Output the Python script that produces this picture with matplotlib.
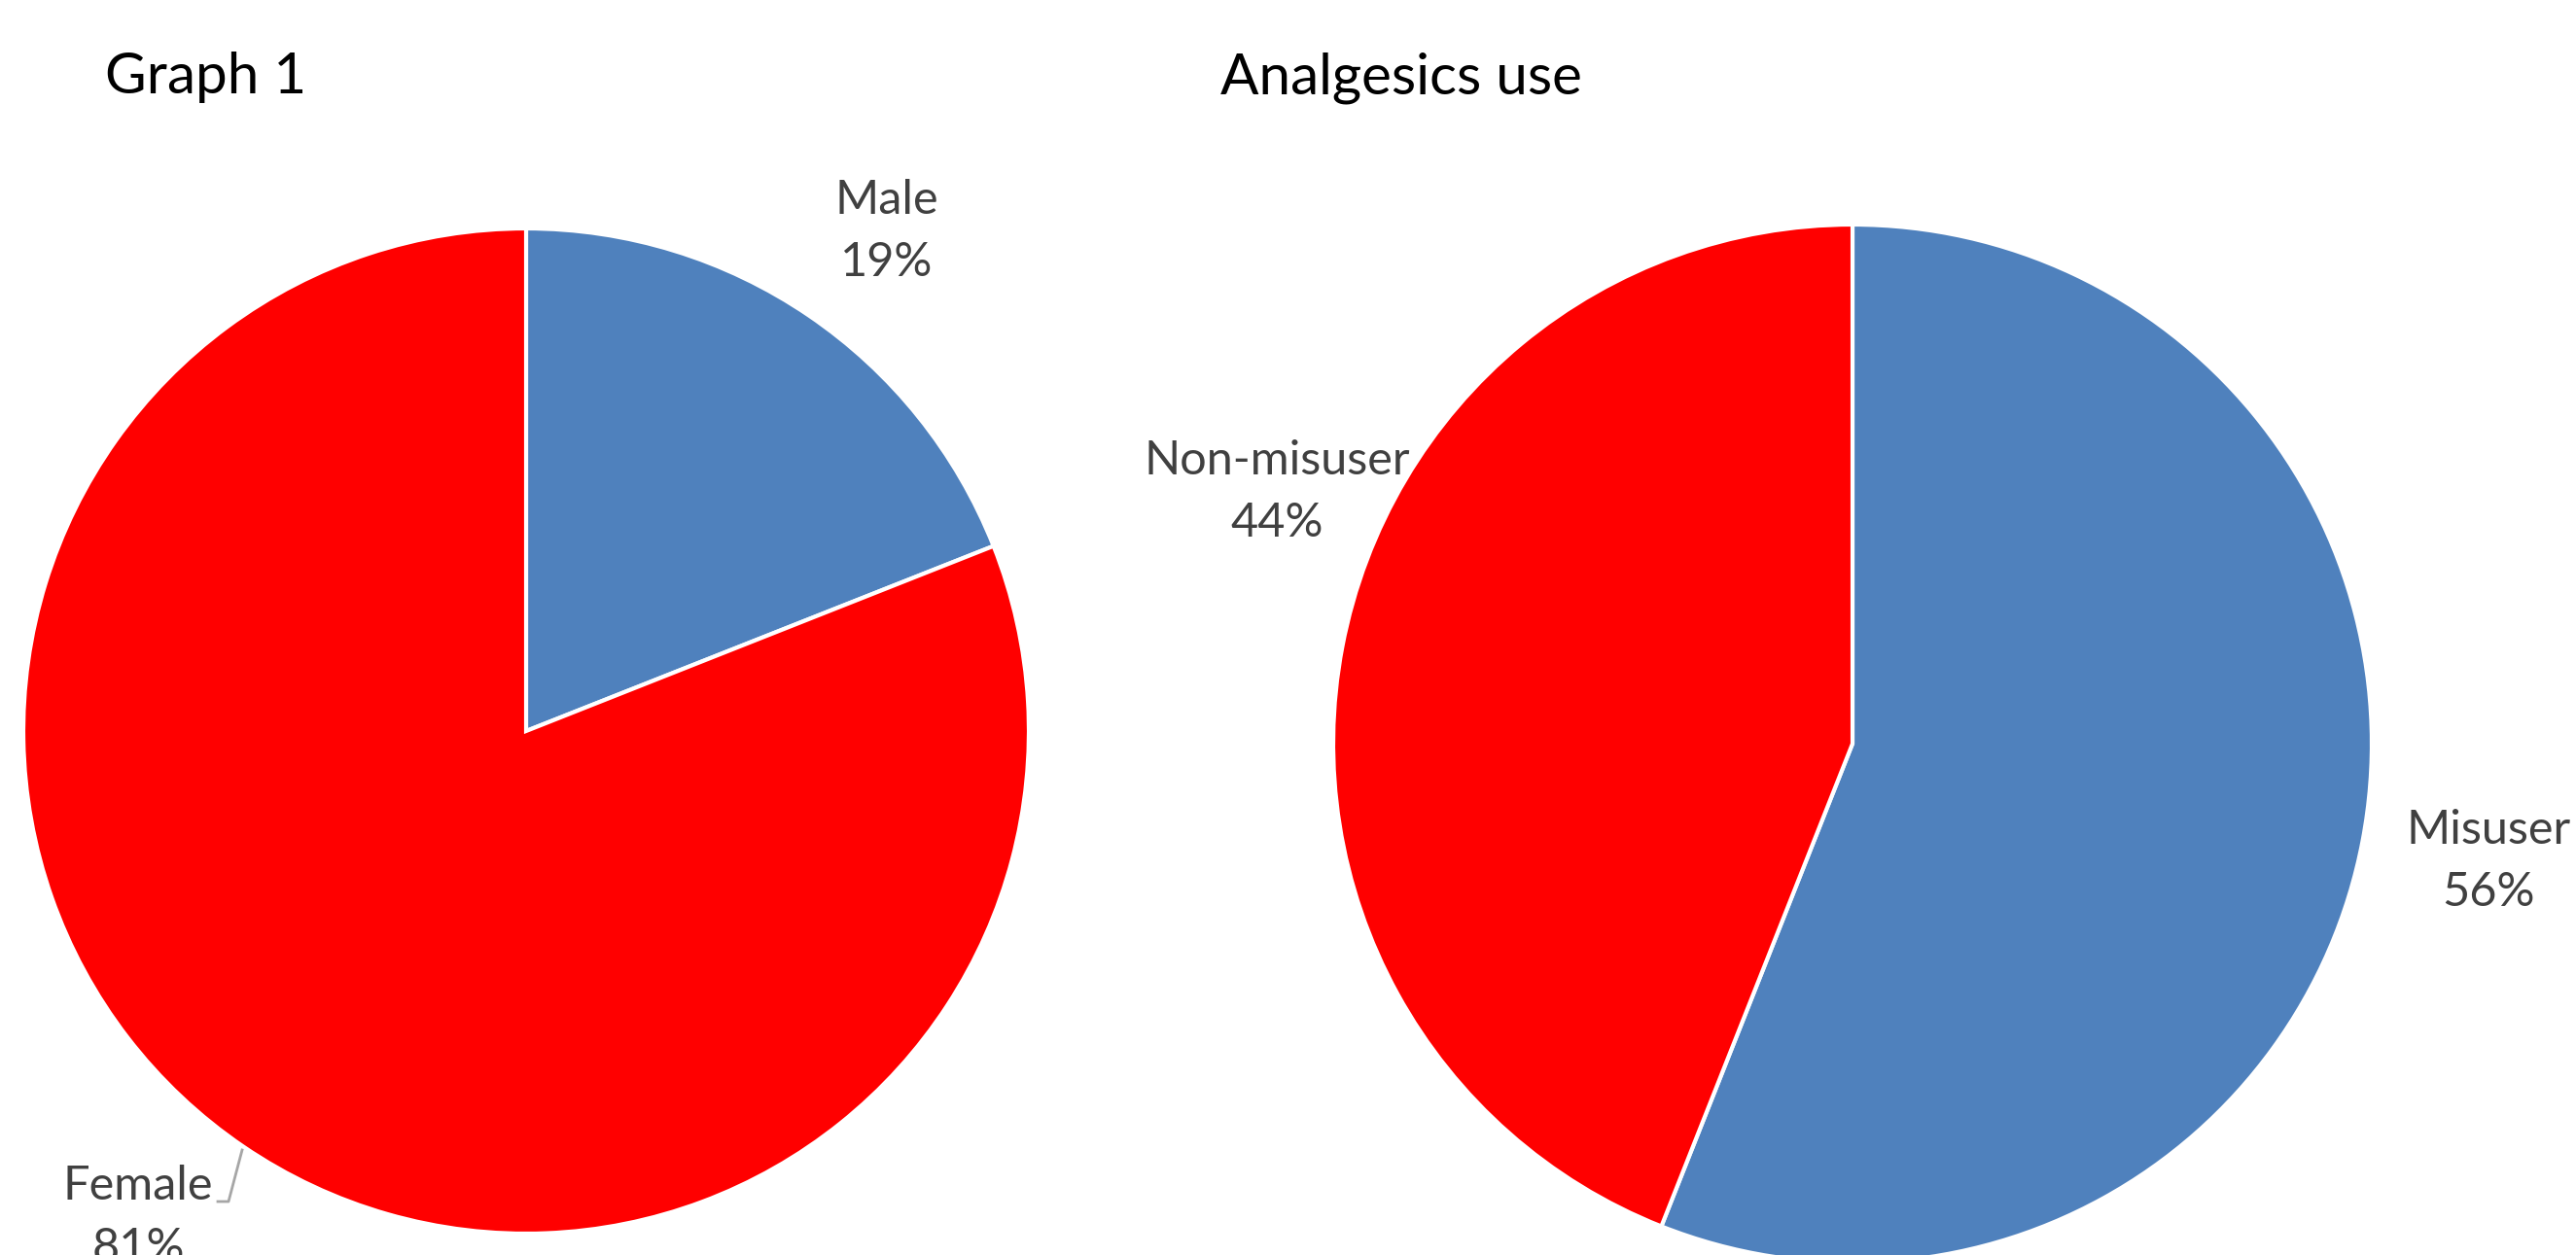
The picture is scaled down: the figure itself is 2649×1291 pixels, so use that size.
import numpy as np
import matplotlib
matplotlib.use('Agg')
import matplotlib.pyplot as plt

plt.rcParams['font.family'] = ['Lato', 'DejaVu Sans']

# data
titles = ['Graph 1', 'Analgesics use']
gender_labels = ['Male', 'Female']
gender_pct = [19, 81]
use_labels = ['Misuser', 'Non-misuser']
use_pct = [56, 44]

blue = '#4F81BD'
red = '#FF0000'
txtclr = '#404040'

W, H = 2649, 1291
fig = plt.figure(figsize=(W/100., H/100.), dpi=100)
ax = fig.add_axes([0, 0, 1, 1])
ax.set_xlim(0, W)
ax.set_ylim(0, H)
ax.set_aspect('equal')
ax.axis('off')

# pies (pixel coords, y up)
c1 = (541, H-752)
r1 = 517
c2 = (1905, H-765)
r2 = 534

ax.pie(gender_pct, colors=[blue, red], startangle=90, counterclock=False,
       center=c1, radius=r1, wedgeprops=dict(edgecolor='white', linewidth=3))
ax.pie(use_pct, colors=[blue, red], startangle=90, counterclock=False,
       center=c2, radius=r2, wedgeprops=dict(edgecolor='white', linewidth=3))
ax.set_xlim(0, W)
ax.set_ylim(0, H)

# titles
ax.text(108, H-80, titles[0], fontsize=42, color='black', ha='left', va='center')
ax.text(1255, H-80, titles[1], fontsize=42, color='black', ha='left', va='center')

fs = 35
def lab(x, y, name, pct):
    ax.text(x, H-y, name, fontsize=fs, color=txtclr, ha='center', va='center')
    ax.text(x, H-y-64, '{:d}%'.format(pct), fontsize=fs, color=txtclr, ha='center', va='center')

lab(912, 206, gender_labels[0], gender_pct[0])
lab(142, 1220, gender_labels[1], gender_pct[1])
lab(1313, 474, use_labels[1], use_pct[1])
lab(2559, 854, use_labels[0], use_pct[0])

# leader line for Female
ax.plot([224, 235, 249], [H-1236, H-1236, H-1183], color='#A6A6A6', lw=2)

fig.savefig('out.png', dpi=100)
